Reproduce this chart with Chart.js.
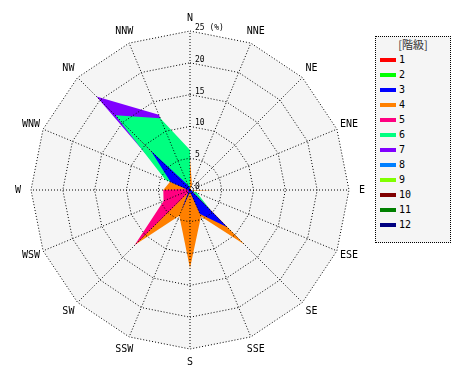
<!DOCTYPE html>
<html>
<head>
<meta charset="utf-8">
<script src="https://cdn.jsdelivr.net/npm/chart.js@4.4.0/dist/chart.umd.min.js"></script>
<style>
body { margin: 0; background: #fff; }
#wrap { position: relative; width: 470px; height: 380px; }
#legend {
    position: absolute; left: 375px; top: 36px; width: 74px; height: 205px;
    border: 1px dotted #000; background: #f5f5f5;
    font-family: "DejaVu Sans Mono", monospace; font-size: 10px; color: #000;
}
#legend .title { height: 15px; line-height: 15px; text-align: center; font-family: "Noto Sans CJK JP", sans-serif; font-size: 11px; color: #333; }
#legend .item { height: 15px; display: flex; align-items: center; }
#legend .swatch { width: 16px; height: 4px; margin-left: 4px; margin-right: 3px; }
</style>
</head>
<body>
<div id="wrap">
    <canvas id="rose" width="470" height="380"></canvas>
    <div id="legend"></div>
</div>
<script>
// 16 wind directions, clockwise from north
const directions = ['N', 'NNE', 'NE', 'ENE', 'E', 'ESE', 'SE', 'SSE', 'S', 'SSW', 'SW', 'WSW', 'W', 'WNW', 'NW', 'NNW'];
const legendTitle = '[階級]';
const classNames = ['1', '2', '3', '4', '5', '6', '7', '8', '9', '10', '11', '12'];
const classColors = ['#FF0000', '#00FF00', '#0000FF', '#FF8000', '#FF0080', '#00FF80',
                     '#8000FF', '#0080FF', '#80FF00', '#800000', '#008000', '#000080'];

// frequency (%) per direction for each class
const class1  = [0, 0, 0, 0, 0, 0, 0, 0, 0, 0, 0, 0, 0, 0, 0, 0];
const class2  = [0, 0, 0, 0, 0, 0, 0, 0, 0, 0, 0, 0, 0, 0, 0, 0];
const class3  = [0.3, 0, 0, 0, 0.3, 0.3, 8.3, 4.1, 0.3, 3.5, 0.3, 0.3, 0.3, 3.3, 8.7, 0.8];
const class4  = [5.0, 0.8, 0, 0, 3.9, 0.3, 12.2, 4.5, 12.3, 4.4, 12.2, 3.0, 4.2, 3.4, 0, 0];
const class5  = [0, 0, 0, 0, 0, 0, 0, 0, 0, 0.3, 12.4, 4.5, 4.2, 0.4, 12.5, 0];
const class6  = [6.3, 0, 0, 0, 0, 1.2, 5.0, 0, 0, 0, 0, 0, 0, 4.2, 16.6, 12.2];
const class7  = [0, 0, 0, 0, 0, 0, 0, 0, 0, 0, 0, 0, 0, 3.5, 20.8, 12.8];
const class8  = [0, 0, 0, 0, 0, 0, 0, 0, 0, 0, 0, 0, 0, 0, 0, 0];
const class9  = [0, 0, 0, 0, 0, 0, 0, 0, 0, 0, 0, 0, 0, 0, 0, 0];
const class10 = [0, 0, 0, 0, 0, 0, 0, 0, 0, 0, 0, 0, 0, 0, 0, 0];
const class11 = [0, 0, 0, 0, 0, 0, 0, 0, 0, 0, 0, 0, 0, 0, 0, 0];
const class12 = [0, 0, 0, 0, 0, 0, 0, 0, 0, 0, 0, 0, 0, 0, 0, 0];
const classValues = [class1, class2, class3, class4, class5, class6, class7, class8, class9, class10, class11, class12];

// which polygon sits on top (0 = topmost)
const drawOrder = [5, 6, 0, 2, 1, 3, 4, 7, 8, 9, 10, 11];

const tickValues = [0, 5, 10, 15, 20, 25];
const tickLabels = ['0', '5', '10', '15', '20', '25 (%)'];

// light grey plot face under the polygons
const faceFill = {
    id: 'faceFill',
    beforeDatasetsDraw(chart) {
        const scale = chart.scales.r;
        const ctx = chart.ctx;
        ctx.save();
        ctx.beginPath();
        for (let i = 0; i < directions.length; i++) {
            const p = scale.getPointPosition(i, scale.drawingArea);
            if (i == 0) ctx.moveTo(p.x, p.y); else ctx.lineTo(p.x, p.y);
        }
        ctx.closePath();
        ctx.fillStyle = '#f5f5f5';
        ctx.fill();
        ctx.restore();
    }
};

// tick values beside the north axis, direction names around the rim
const rimText = {
    id: 'rimText',
    afterDraw(chart) {
        const scale = chart.scales.r;
        const ctx = chart.ctx;
        ctx.save();
        ctx.fillStyle = '#000';
        ctx.font = '8px "DejaVu Sans Mono"';
        ctx.textAlign = 'left';
        ctx.textBaseline = 'bottom';
        for (let i = 0; i < tickValues.length; i++) {
            const y = scale.yCenter - scale.getDistanceFromCenterForValue(tickValues[i]);
            ctx.fillText(tickLabels[i], scale.xCenter + 5, y + 1);
        }
        ctx.font = '10px "DejaVu Sans Mono"';
        ctx.textAlign = 'center';
        ctx.textBaseline = 'middle';
        for (let i = 0; i < directions.length; i++) {
            const p = scale.getPointPosition(i, scale.drawingArea + 13);
            ctx.fillText(directions[i], p.x, p.y);
        }
        ctx.restore();
    }
};

const datasets = classValues.map(function(values, index) {
    return {
        label: classNames[index],
        data: values,
        backgroundColor: classColors[index],
        borderColor: classColors[index],
        borderWidth: 0,
        pointRadius: 0,
        fill: 'origin',
        order: drawOrder[index]
    };
});

new Chart(document.getElementById('rose').getContext('2d'), {
    type: 'radar',
    data: { labels: directions, datasets: datasets },
    options: {
        responsive: false,
        animation: false,
        layout: { padding: { top: 31, bottom: 31, left: 31, right: 121 } },
        elements: { line: { tension: 0 } },
        scales: {
            r: {
                min: 0,
                max: 25,
                startAngle: 0,
                ticks: { display: false, stepSize: 5 },
                grid: { z: 1, circular: false, color: '#000', lineWidth: 1, borderDash: [1, 2] },
                border: { dash: [1, 2] },
                angleLines: { color: '#000', lineWidth: 1, borderDash: [1, 2] },
                pointLabels: { display: false }
            }
        },
        plugins: {
            legend: { display: false },
            tooltip: { enabled: false }
        }
    },
    plugins: [faceFill, rimText]
});

// legend box
const legend = document.getElementById('legend');
const title = document.createElement('div');
title.className = 'title';
title.textContent = legendTitle;
legend.appendChild(title);
for (let i = 0; i < classNames.length; i++) {
    const row = document.createElement('div');
    row.className = 'item';
    const sw = document.createElement('span');
    sw.className = 'swatch';
    sw.style.background = classColors[i];
    const txt = document.createElement('span');
    txt.textContent = classNames[i];
    row.appendChild(sw);
    row.appendChild(txt);
    legend.appendChild(row);
}
</script>
</body>
</html>
